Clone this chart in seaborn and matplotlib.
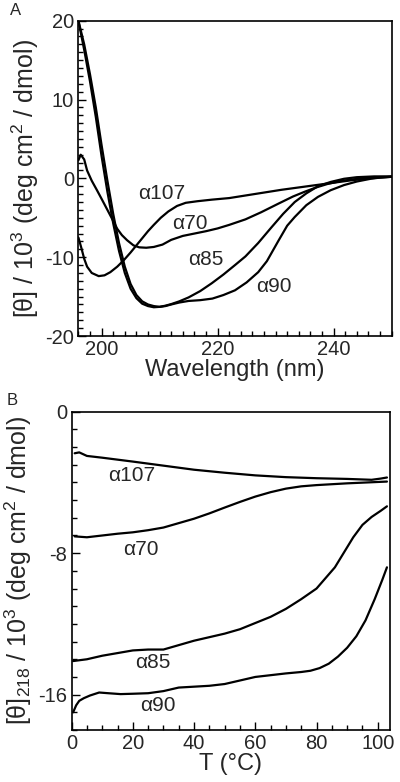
import numpy as np
import pandas as pd
import seaborn as sns
import matplotlib
matplotlib.use("Agg")
import matplotlib.pyplot as plt
from matplotlib.ticker import MultipleLocator

sns.set_style("ticks")
plt.rcParams['font.family'] = ['Liberation Sans', 'DejaVu Sans']
plt.rcParams['mathtext.default'] = 'regular'
plt.rcParams['axes.unicode_minus'] = False

# ---- panel A: CD spectra ----
wl_a107 = [196, 196.5, 197, 197.5, 198.3, 199.5, 200.5, 201.5, 202.7, 203.8, 205, 206, 207, 208, 209,
           210.2, 211.5, 213, 214.5, 216.5, 219, 222, 225, 228, 231, 234, 237, 240, 243, 246, 250]
cd_a107 = [-7.5, -8.8, -10.2, -11.2, -12.0, -12.4, -12.3, -11.9, -11.2, -10.4, -9.4, -8.5, -7.6, -6.7, -5.9,
           -5.0, -4.2, -3.5, -3.1, -2.9, -2.7, -2.5, -2.15, -1.8, -1.45, -1.15, -0.85, -0.55, -0.25, 0.0, 0.2]

wl_a70 = [196, 196.4, 197, 197.5, 198.3, 199.2, 200, 201, 202, 202.7, 203.5, 204.4, 205.5, 206.5, 207.7,
          209, 210.5, 212, 214, 216, 218, 220, 222, 224.8, 227.5, 230.5, 233, 235, 237, 239, 241.5,
          244.7, 247, 250]
cd_a70 = [2.3, 3.0, 2.4, 1.0, -0.3, -1.5, -2.6, -4.0, -5.4, -6.4, -7.2, -7.85, -8.5, -8.75, -8.8,
          -8.7, -8.4, -7.8, -7.3, -7.0, -6.7, -6.35, -5.9, -5.2, -4.3, -3.2, -2.3, -1.7, -1.15, -0.7, -0.3,
          0.0, 0.15, 0.2]

wl_a85 = [196, 197, 198, 199, 200, 201, 202, 203, 204, 205, 206, 207, 208, 209, 210, 211, 212, 213.4,
          215, 217, 219, 221, 223, 224.8, 227, 229.3, 231.3, 233.3, 235.3, 237.3, 239.5, 241.8, 244, 247, 250]
cd_a85 = [20, 16.3, 12.3, 7.8, 2.8, -1.7, -5.7, -9.2, -12.0, -14.0, -15.2, -15.9, -16.2, -16.35, -16.3,
          -16.15, -15.95, -15.6, -15.1, -14.3, -13.3, -12.2, -11.0, -9.9, -8.2, -6.2, -4.5, -3.0, -1.9,
          -1.0, -0.45, -0.05, 0.15, 0.25, 0.25]

wl_a90 = [196, 197, 198, 199, 200, 201, 202, 203, 204, 205, 206, 207, 208, 209, 210, 211, 212, 213.4,
          215, 217, 219.1, 221, 223, 225, 227, 228.5, 230.5, 232, 233.3, 235.3, 237.3, 239.5, 241.8, 244,
          246.4, 248, 250]
cd_a90 = [20, 17.0, 13.2, 9.0, 4.2, -0.3, -4.5, -8.2, -11.2, -13.4, -14.8, -15.6, -16.0, -16.2, -16.3,
          -16.2, -16.0, -15.75, -15.55, -15.45, -15.25, -14.8, -14.2, -13.2, -11.9, -10.5, -7.9, -6.0,
          -4.9, -3.4, -2.35, -1.5, -0.85, -0.4, -0.05, 0.1, 0.2]

# ---- panel B: thermal melts at 218 nm ----
t_a107 = [1, 2.5, 5, 10, 20, 30, 40, 50, 60, 70, 80, 90, 98, 101, 103]
m_a107 = [-2.35, -2.3, -2.5, -2.6, -2.82, -3.05, -3.28, -3.45, -3.6, -3.7, -3.76, -3.8, -3.85, -3.78, -3.72]

t_a70 = [1, 5, 10, 15, 20, 25, 30, 35, 40, 45, 50, 55, 60, 65, 70, 75, 80, 90, 103]
m_a70 = [-7.05, -7.1, -7.0, -6.9, -6.82, -6.7, -6.55, -6.3, -6.05, -5.75, -5.42, -5.1, -4.8, -4.55,
         -4.35, -4.22, -4.15, -4.05, -3.95]

t_a85 = [0.5, 5, 10, 15, 20, 25, 30, 35, 40, 45, 50, 55, 60, 65, 70, 75, 80, 83, 86, 89, 92, 95, 98,
         101, 103]
m_a85 = [-14.1, -14.0, -13.8, -13.65, -13.5, -13.45, -13.45, -13.2, -12.95, -12.75, -12.55, -12.3, -11.95,
         -11.6, -11.15, -10.6, -10.0, -9.4, -8.8, -7.95, -7.1, -6.4, -5.95, -5.6, -5.35]

t_a90 = [0.5, 1.5, 2.5, 4, 6, 9, 12, 16, 20, 25, 30, 35, 40, 45, 50, 55, 60, 65, 70, 75, 78, 81, 84,
         87, 90, 93, 96, 99, 101.5, 103]
m_a90 = [-17.0, -16.6, -16.35, -16.2, -16.05, -15.88, -15.92, -15.97, -15.95, -15.92, -15.8, -15.6,
         -15.55, -15.5, -15.4, -15.2, -15.0, -14.9, -14.8, -14.72, -14.65, -14.5, -14.25, -13.85, -13.35,
         -12.7, -11.8, -10.6, -9.5, -8.8]

names = ["\u03b1107", "\u03b170", "\u03b185", "\u03b190"]
spectra = [(wl_a107, cd_a107), (wl_a70, cd_a70), (wl_a85, cd_a85), (wl_a90, cd_a90)]
melts = [(t_a107, m_a107), (t_a70, m_a70), (t_a85, m_a85), (t_a90, m_a90)]

# label anchor points (data coords)
lab_a = [(210.3, -1.9), (215.2, -5.7), (217.9, -10.3), (229.7, -13.7)]
lab_b = [(19.6, -3.63), (22.5, -7.78), (26.5, -14.2), (28.1, -16.6)]

fig = plt.figure(figsize=(4.0, 7.82), dpi=100)
ax1 = fig.add_axes([0.196, 0.5703, 0.783, 0.4032])
ax2 = fig.add_axes([0.179, 0.0665, 0.796, 0.407])

for (x, y) in spectra:
    sns.lineplot(x=x, y=y, ax=ax1, color="black", lw=1.6, sort=False, estimator=None)
for (x, y) in melts:
    sns.lineplot(x=x, y=y, ax=ax2, color="black", lw=1.6, sort=False, estimator=None)

for n, (lx, ly) in zip(names, lab_a):
    ax1.text(lx, ly, n, fontsize=15, ha="center", va="center")
for n, (lx, ly) in zip(names, lab_b):
    ax2.text(lx, ly, n, fontsize=15, ha="center", va="center")

ax1.set_xlim(196, 250)
ax1.set_ylim(-20, 20)
ax1.xaxis.set_major_locator(MultipleLocator(20))
ax1.xaxis.set_minor_locator(MultipleLocator(2))
ax1.yaxis.set_major_locator(MultipleLocator(10))
ax1.yaxis.set_minor_locator(MultipleLocator(1))
ax1.set_xlabel("Wavelength (nm)", fontsize=17, labelpad=0)
ax1.set_ylabel("[\u03b8] / 10$^3$ (deg cm$^2$ / dmol)", fontsize=18, labelpad=3)

ax2.set_xlim(0, 104)
ax2.set_ylim(-18, 0)
ax2.xaxis.set_major_locator(MultipleLocator(20))
ax2.xaxis.set_minor_locator(MultipleLocator(5))
ax2.yaxis.set_major_locator(MultipleLocator(8))
ax2.yaxis.set_minor_locator(MultipleLocator(1))
ax2.set_xlabel("T (\u00b0C)", fontsize=17, labelpad=0)
ax2.set_ylabel("[\u03b8]$_{218}$ / 10$^3$ (deg cm$^2$ / dmol)", fontsize=18, labelpad=3)

for ax in (ax1, ax2):
    for s in ax.spines.values():
        s.set_visible(True)
        s.set_linewidth(1.2)
        s.set_color("black")
    ax.tick_params(which="both", direction="in", top=False, right=False, width=1.0, color="black")
    ax.tick_params(which="major", length=6, labelsize=14.5, pad=3)
    ax.tick_params(which="minor", length=3.5)

fig.text(0.04, 0.987, "A", fontsize=12, ha="center", va="center")
fig.text(0.03, 0.488, "B", fontsize=12, ha="center", va="center")

fig.savefig("out.png", dpi=100)
